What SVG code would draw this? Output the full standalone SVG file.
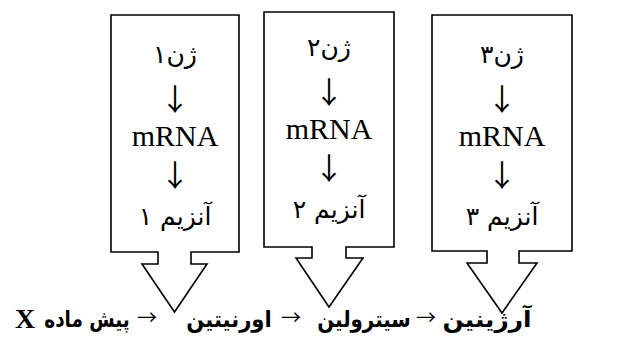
<svg xmlns="http://www.w3.org/2000/svg" width="623" height="338" viewBox="0 0 623 338">
<style>
.frame{fill:#fff;stroke:#000;stroke-width:1.6;stroke-linejoin:miter}
.fa{font-family:"DejaVu Sans","Liberation Serif",serif;font-size:25px;fill:#000;text-anchor:middle}
.lat{font-family:"Liberation Serif","Times New Roman",serif;font-size:30px;fill:#000;text-anchor:middle}
.arr{font-family:"Noto Sans CJK JP","Noto Sans CJK SC","DejaVu Sans",sans-serif;font-size:30px;fill:#000;text-anchor:middle}
.fab{font-family:"DejaVu Sans","Liberation Serif",sans-serif;font-size:23px;font-weight:bold;fill:#000;text-anchor:middle}
.latb{font-family:"Liberation Serif","Times New Roman",serif;font-size:28px;font-weight:bold;fill:#000;text-anchor:middle}
.harr{font-family:"Noto Sans CJK JP","Noto Sans CJK SC","DejaVu Sans",sans-serif;font-size:20px;fill:#000;text-anchor:middle}
</style>
<g id="gene1">
<path class="frame" d="M158,252 L111,252 L111,15 L239,15 L239,252 L191,252 L191,264 L207,264 L174.5,312 L142,264 L158,264 Z"/>
<text class="fa" x="175" y="63">ژن۱</text>
<text class="arr" x="175" y="110">↓</text>
<text class="lat" x="175" y="146">mRNA</text>
<text class="arr" x="175" y="186">↓</text>
<text class="fa" x="175" y="225">آنزیم ۱</text>
</g>
<g id="gene2">
<path class="frame" d="M312,247 L264,247 L264,12 L394,12 L394,247 L346,247 L346,258 L363,258 L329,307 L296,258 L312,258 Z"/>
<text class="fa" x="329" y="56">ژن۲</text>
<text class="arr" x="329" y="103">↓</text>
<text class="lat" x="329" y="139">mRNA</text>
<text class="arr" x="329" y="179">↓</text>
<text class="fa" x="329" y="218">آنزیم ۲</text>
</g>
<g id="gene3">
<path class="frame" d="M487,251 L432,251 L432,15 L572,15 L572,251 L519,251 L519,263 L537,263 L502,313 L467,263 L487,263 Z"/>
<text class="fa" x="502" y="63">ژن۳</text>
<text class="arr" x="502" y="110">↓</text>
<text class="lat" x="502" y="146">mRNA</text>
<text class="arr" x="502" y="186">↓</text>
<text class="fa" x="502" y="225">آنزیم ۳</text>
</g>
<g id="pathway">
<text class="latb" x="25" y="328">X</text>
<text class="fab" transform="translate(87,327) scale(0.8,1)">پیش ماده</text>
<text class="harr" x="147" y="325">→</text>
<text class="fab" transform="translate(229,327) scale(0.92,1)">اورنیتین</text>
<text class="harr" x="291" y="325">→</text>
<text class="fab" transform="translate(364,327) scale(0.86,1)">سیترولین</text>
<text class="harr" x="426" y="325">→</text>
<text class="fab" transform="translate(487,327) scale(1.08,1)">آرژینین</text>
</g>
</svg>
